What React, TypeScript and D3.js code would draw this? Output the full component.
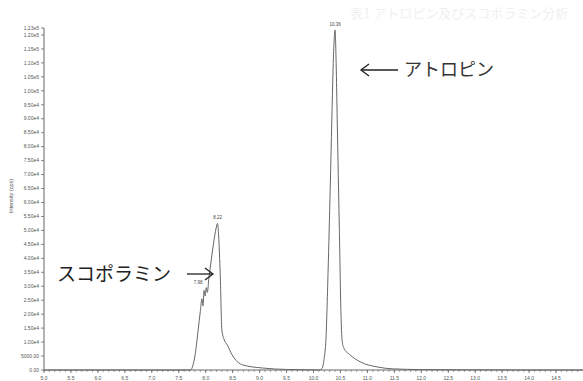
import React from "react";
import * as d3 from "d3";

// Retention time (min) and intensity (cps) of the chromatogram trace
const traceTime = [
  5.0, 6.0, 7.0, 7.72, 7.76, 7.8, 7.86, 7.9, 7.93, 7.95, 7.97, 7.99, 8.01, 8.03, 8.06, 8.1, 8.15, 8.19, 8.22,
  8.24, 8.27, 8.3, 8.34, 8.4, 8.49, 8.69, 9.06, 9.5, 10.0, 10.1, 10.16, 10.2, 10.23, 10.27, 10.31, 10.34,
  10.37, 10.4, 10.42, 10.44, 10.48, 10.51, 10.53, 10.56, 10.68, 10.87, 11.18, 11.48, 12.0, 13.0, 14.0, 15.0,
];
const traceIntensity = [
  0, 0, 0, 0, 1500, 5000, 14300, 21000, 25500, 23000, 28500, 26500, 29500, 27800, 33000, 39000, 46000, 50500,
  52500, 48000, 34000, 14300, 11000, 9000, 5400, 1800, 700, 200, 50, 0, 600, 4500, 10700, 35000, 65000, 89600,
  112000, 121800, 110000, 89600, 50000, 20000, 10700, 8000, 5400, 2900, 1100, 400, 150, 50, 0, 0,
];

const peakTimes = [7.86, 8.22, 10.4];
const peakHeights = [29500, 52500, 121800];
const peakLabels = ["7.98", "8.22", "10.36"];

const yTickValues = d3.range(0, 120001, 5000);
const yTopValue = 122500;
const yTopLabel = "1.23e5";
const xTickValues = d3.range(5.0, 14.51, 0.5);
const xMinorTicks = d3.range(5.0, 15.0, 0.1);

const yTitle = "Intensity (cps)";
const atropineName = "アトロピン";
const scopolamineName = "スコポラミン";
const bleedTitle = "表1 アトロピン及びスコポラミン分析";

const W = 583;
const H = 381;

export default function App() {
  const x = d3.scaleLinear().domain([5, 15]).range([44, 583]);
  const y = d3.scaleLinear().domain([0, yTopValue]).range([370, 28]);
  const pts: [number, number][] = traceTime.map((t, i) => [t, traceIntensity[i]]);
  const line = d3
    .line<[number, number]>()
    .x((d) => x(d[0]))
    .y((d) => y(d[1]))
    .curve(d3.curveMonotoneX);

  const fmtY = (v: number) => (v === 0 ? "0.00" : v < 10000 ? v.toFixed(2) : v.toExponential(2).replace("e+", "e"));
  const tickFont = "Liberation Sans, Arial, sans-serif";
  const gray = "#666";

  const arrowY1 = 70;
  const arrowY2 = 274;

  return (
    <svg
      width={W}
      height={H}
      style={{ position: "absolute", left: 0, top: 0, background: "#fff" }}
      fontFamily={tickFont}
    >
      {/* faint bleed-through heading from scanned page */}
      <text x={350} y={18} fontSize={13} fill="#f0f0f0" fontFamily="Noto Sans CJK JP">
        {bleedTitle}
      </text>

      {/* axes */}
      <line x1={44} x2={44} y1={28} y2={370} stroke={gray} strokeWidth={1} />
      <line x1={44} x2={583} y1={370} y2={370} stroke={gray} strokeWidth={1} />

      {yTickValues.map((v) => (
        <g key={"y" + v}>
          <line x1={41} x2={44} y1={y(v)} y2={y(v)} stroke={gray} strokeWidth={0.8} />
          <text x={39} y={y(v)} dy="0.35em" fontSize={5} textAnchor="end" fill="#555">
            {fmtY(v)}
          </text>
        </g>
      ))}
      <line x1={41} x2={44} y1={y(yTopValue)} y2={y(yTopValue)} stroke={gray} strokeWidth={0.8} />
      <text x={39} y={y(yTopValue)} dy="0.35em" fontSize={5} textAnchor="end" fill="#555">
        {yTopLabel}
      </text>

      {xMinorTicks.map((v, i) => (
        <line key={"m" + i} x1={x(v)} x2={x(v)} y1={370} y2={372} stroke={gray} strokeWidth={0.6} />
      ))}
      {xTickValues.map((v) => (
        <g key={"x" + v}>
          <line x1={x(v)} x2={x(v)} y1={370} y2={373} stroke={gray} strokeWidth={0.8} />
          <text x={x(v)} y={378} dy="0.35em" fontSize={5} textAnchor="middle" fill="#555">
            {v.toFixed(1)}
          </text>
        </g>
      ))}

      <text
        transform={`translate(13,196) rotate(-90)`}
        fontSize={5.5}
        textAnchor="middle"
        fill="#555"
      >
        {yTitle}
      </text>

      {/* trace */}
      <path d={line(pts) || ""} fill="none" stroke="#666" strokeWidth={1} />

      {/* peak labels */}
      {peakTimes.map((t, i) => (
        <text key={"p" + i} x={x(t)} y={y(peakHeights[i]) - 4} fontSize={4.5} textAnchor="middle" fill="#444">
          {peakLabels[i]}
        </text>
      ))}

      {/* annotations */}
      <g stroke="#222" strokeWidth={1.3} fill="none">
        <line x1={361} x2={398} y1={arrowY1} y2={arrowY1} />
        <polyline points={`369,${arrowY1 - 6} 361,${arrowY1} 369,${arrowY1 + 6}`} />
        <line x1={187} x2={213} y1={arrowY2} y2={arrowY2} />
        <polyline points={`205,${arrowY2 - 6} 213,${arrowY2} 205,${arrowY2 + 6}`} />
      </g>
      <text x={404} y={arrowY1} dy="0.36em" fontSize={18} fill="#333" fontFamily="Noto Sans CJK JP">
        {atropineName}
      </text>
      <text x={57} y={arrowY2} dy="0.36em" fontSize={19} fill="#222" fontFamily="Noto Sans CJK JP">
        {scopolamineName}
      </text>
    </svg>
  );
}
